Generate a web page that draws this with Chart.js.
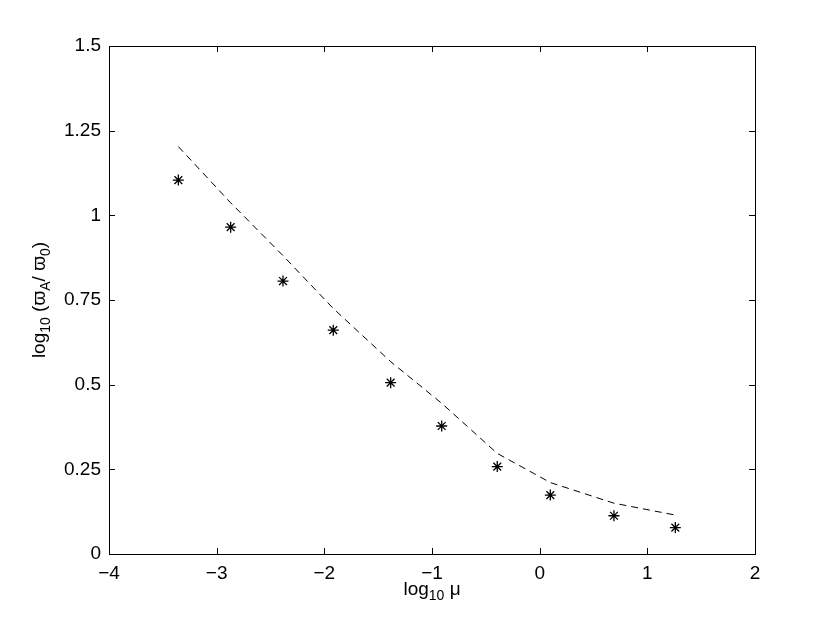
<!DOCTYPE html>
<html>
<head>
<meta charset="utf-8">
<script src="https://cdn.jsdelivr.net/npm/chart.js@4.4.1/dist/chart.umd.min.js"></script>
<style>
  html, body { margin: 0; padding: 0; background: #fff; }
  #wrap { width: 830px; height: 624px; }
</style>
</head>
<body>
<div id="wrap"><canvas id="chart" width="830" height="624"></canvas></div>
<script>
// measured points (stars)
const muLog = [-3.356, -2.870, -2.384, -1.917, -1.384, -0.910, -0.394, 0.099, 0.690, 1.260];
const ratioMeasured = [1.104, 0.965, 0.806, 0.661, 0.506, 0.378, 0.258, 0.174, 0.113, 0.078];
// dashed curve, same abscissae
const ratioModel = [1.203, 1.037, 0.881, 0.725, 0.568, 0.445, 0.297, 0.211, 0.150, 0.115];

const xTicks = [-4, -3, -2, -1, 0, 1, 2];
const xTickLabels = ["\u22124", "\u22123", "\u22122", "\u22121", "0", "1", "2"];
const yTicks = [0, 0.25, 0.5, 0.75, 1, 1.25, 1.5];
const yTickLabels = ["0", "0.25", "0.5", "0.75", "1", "1.25", "1.5"];

const FONT = '"Liberation Sans", Arial, Helvetica, sans-serif';
const FS = 19;

// writes a run of text pieces, some as subscripts, centred on 0
function drawRich(ctx, parts, size) {
  const subSize = Math.round(size * 0.72);
  let total = 0;
  parts.forEach(p => {
    ctx.font = (p.sub ? subSize : size) + "px " + FONT;
    p.w = ctx.measureText(p.t).width;
    total += p.w;
  });
  let x = -total / 2;
  parts.forEach(p => {
    ctx.font = (p.sub ? subSize : size) + "px " + FONT;
    ctx.fillText(p.t, x, p.sub ? 5 : 0);
    x += p.w;
  });
}

const boxPlugin = {
  id: "box",
  afterDraw(chart) {
    const { ctx, chartArea: a, scales } = chart;
    ctx.save();
    ctx.strokeStyle = "#000";
    ctx.lineWidth = 1;
    ctx.strokeRect(Math.round(a.left) + 0.5, Math.round(a.top) + 0.5,
      Math.round(a.right - a.left), Math.round(a.bottom - a.top));
    const t = 6;
    ctx.beginPath();
    xTicks.forEach(v => {
      const px = Math.round(scales.x.getPixelForValue(v)) + 0.5;
      ctx.moveTo(px, a.bottom); ctx.lineTo(px, a.bottom - t);
      ctx.moveTo(px, a.top); ctx.lineTo(px, a.top + t);
    });
    yTicks.forEach(v => {
      const py = Math.round(scales.y.getPixelForValue(v)) + 0.5;
      ctx.moveTo(a.left, py); ctx.lineTo(a.left + t, py);
      ctx.moveTo(a.right, py); ctx.lineTo(a.right - t, py);
    });
    ctx.stroke();

    ctx.fillStyle = "#000";
    ctx.textBaseline = "alphabetic";
    ctx.textAlign = "left";
    // x label
    ctx.save();
    ctx.translate((a.left + a.right) / 2, 595);
    drawRich(ctx, [{ t: "log" }, { t: "10", sub: true }, { t: " \u03bc" }], FS);
    ctx.restore();
    // y label
    ctx.save();
    ctx.translate(45, (a.top + a.bottom) / 2);
    ctx.rotate(-Math.PI / 2);
    drawRich(ctx, [
      { t: "log" }, { t: "10", sub: true }, { t: " (\u03d6" }, { t: "A", sub: true },
      { t: "/ \u03d6" }, { t: "0", sub: true }, { t: ")" }
    ], FS);
    ctx.restore();
    ctx.restore();
  }
};

new Chart(document.getElementById("chart"), {
  type: "scatter",
  data: {
    datasets: [
      {
        label: "model",
        data: muLog.map((x, i) => ({ x, y: ratioModel[i] })),
        showLine: true,
        borderColor: "#000",
        borderWidth: 1,
        borderDash: [7, 5],
        pointRadius: 0,
        tension: 0
      },
      {
        label: "measured",
        data: muLog.map((x, i) => ({ x, y: ratioMeasured[i] })),
        showLine: false,
        pointStyle: "star",
        pointRadius: 5.5,
        borderColor: "#000",
        backgroundColor: "#000",
        borderWidth: 1.3
      }
    ]
  },
  options: {
    responsive: false,
    animation: false,
    layout: { padding: { top: 46, right: 75, left: 0, bottom: 0 } },
    plugins: { legend: { display: false }, tooltip: { enabled: false } },
    scales: {
      x: {
        type: "linear",
        min: -4,
        max: 2,
        afterBuildTicks: s => { s.ticks = xTicks.map(v => ({ value: v })); },
        afterFit: s => { s.height = 70; },
        grid: { display: false, drawTicks: false },
        border: { display: false },
        ticks: {
          padding: 8,
          color: "#000",
          font: { family: FONT, size: FS },
          callback: v => xTickLabels[xTicks.indexOf(v)]
        }
      },
      y: {
        min: 0,
        max: 1.5,
        afterBuildTicks: s => { s.ticks = yTicks.map(v => ({ value: v })); },
        afterFit: s => { s.width = 109; },
        grid: { display: false, drawTicks: false },
        border: { display: false },
        ticks: {
          padding: 8,
          color: "#000",
          font: { family: FONT, size: FS },
          callback: v => yTickLabels[yTicks.indexOf(v)]
        }
      }
    }
  },
  plugins: [boxPlugin]
});
</script>
</body>
</html>
